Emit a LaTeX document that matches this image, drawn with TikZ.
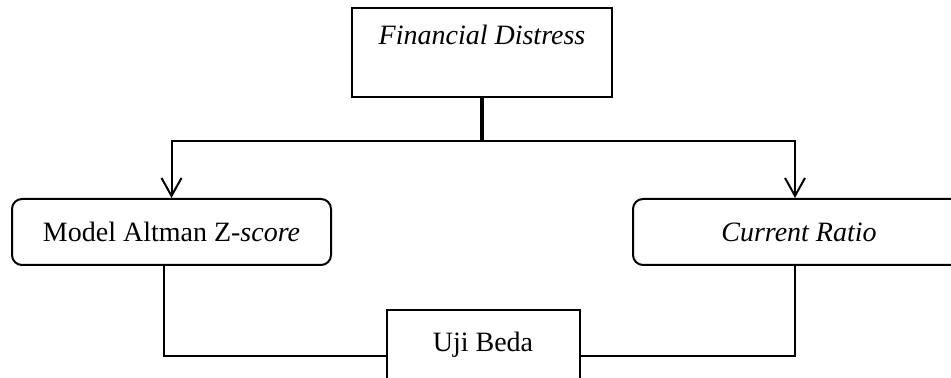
\documentclass[tikz,border=0pt]{standalone}
\usepackage{fontspec}
\setmainfont{Liberation Serif}
\usepackage{tikz}
\usetikzlibrary{arrows.meta, positioning}

\begin{document}
\begin{tikzpicture}[
  x=0.5pt, y=-0.5pt,
  font=\fontsize{14}{16}\selectfont,
  plainbox/.style={draw, line width=1pt, inner sep=0pt, align=center},
  roundbox/.style={draw, line width=1pt, rounded corners=5pt, inner sep=0pt, align=center, minimum height=33pt},
  arrow/.style={-{Straight Barb[length=9pt, width=10pt, line width=1pt]}, line width=1pt},
  link/.style={line width=1pt},
  trunk/.style={line width=2pt}
]
  \path[use as bounding box, clip] (0,0) rectangle (951,378);

  \node[plainbox, minimum width=130pt, text height=18.5pt, text depth=26pt] (distress) at (482,52.5) {\textit{Financial Distress}};
  \node[roundbox, minimum width=159.5pt] (altman) at (171.5,232) {Model Altman Z-\textit{score}};
  \node[roundbox, minimum width=166pt] (ratio) at (799,232) {\textit{Current Ratio}};
  \node[plainbox, minimum width=96.5pt, text height=21pt, text depth=25pt] (beda) at (483,356) {Uji Beda};

  \coordinate (split) at (482,141);

  \draw[trunk] (distress) -- (split);
  \draw[arrow] (split) -| ([xshift=-2pt]ratio.north);
  \draw[arrow] (split) -| (altman.north);
  \draw[link] ([xshift=-3.75pt]altman.south) |- (beda.west);
  \draw[link] ([xshift=-2pt]ratio.south) |- (beda.east);
\end{tikzpicture}
\end{document}
